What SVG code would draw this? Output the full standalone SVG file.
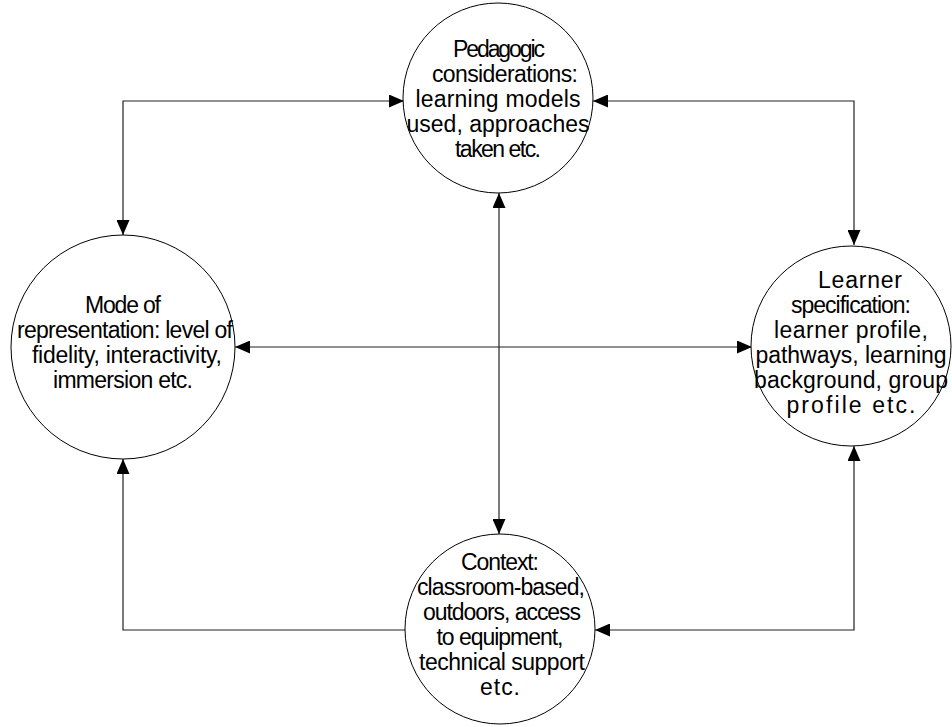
<svg xmlns="http://www.w3.org/2000/svg" width="952" height="727" viewBox="0 0 952 727">
<style>
.node circle{fill:#fff;stroke:#000;stroke-width:1}
.node text{font-family:"Liberation Sans",Arial,sans-serif;font-size:23px;fill:#000;text-anchor:middle}
.conn path{fill:none;stroke:#222;stroke-width:1.2}
</style>
<defs>
<marker id="arr" markerUnits="userSpaceOnUse" markerWidth="15" markerHeight="13" refX="15" refY="6.5" orient="auto-start-reverse" viewBox="0 0 15 13">
<path d="M0,0 L15,6.5 L0,13 z" fill="#000"/>
</marker>
</defs>
<g id="connectors" class="conn">
<path d="M404,101 H123 V235" marker-start="url(#arr)" marker-end="url(#arr)"/>
<path d="M593,101 H854 V245" marker-start="url(#arr)" marker-end="url(#arr)"/>
<path d="M405,630 H123 V459" marker-end="url(#arr)"/>
<path d="M595,630 H854 V446" marker-start="url(#arr)" marker-end="url(#arr)"/>
<path d="M499,193 V534" marker-start="url(#arr)" marker-end="url(#arr)"/>
<path d="M235,347 H752" marker-start="url(#arr)" marker-end="url(#arr)"/>
</g>
<g id="pedagogic" class="node">
<circle cx="498" cy="98" r="95"/>
<text lengthAdjust="spacing"><tspan x="499" y="57" textLength="92">Pedagogic</tspan><tspan x="505" y="82" textLength="146">considerations:</tspan><tspan x="498" y="107" textLength="165">learning models</tspan><tspan x="498" y="132" textLength="183">used, approaches</tspan><tspan x="498" y="157" textLength="86">taken etc.</tspan></text>
</g>
<g id="mode" class="node">
<circle cx="123" cy="347" r="112"/>
<text><tspan x="123" y="313" textLength="76">Mode of</tspan><tspan x="125" y="338" textLength="216">representation: level of</tspan><tspan x="127" y="363" textLength="190">fidelity, interactivity,</tspan><tspan x="123" y="388" textLength="140">immersion etc.</tspan></text>
</g>
<g id="learner" class="node">
<circle cx="851" cy="346" r="100"/>
<text><tspan x="860" y="288" textLength="84">Learner</tspan><tspan x="851" y="313" textLength="120">specification:</tspan><tspan x="851" y="338" textLength="154">learner profile,</tspan><tspan x="851" y="363" textLength="191">pathways, learning</tspan><tspan x="851" y="388" textLength="194">background, group</tspan><tspan x="851" y="413" textLength="129">profile etc.</tspan></text>
</g>
<g id="context" class="node">
<circle cx="500" cy="629" r="95"/>
<text><tspan x="500" y="570" textLength="78">Context:</tspan><tspan x="501" y="595" textLength="168">classroom-based,</tspan><tspan x="502" y="620" textLength="158">outdoors, access</tspan><tspan x="500" y="645" textLength="127">to equipment,</tspan><tspan x="502" y="670" textLength="166">technical support</tspan><tspan x="500" y="695" textLength="40">etc.</tspan></text>
</g>
</svg>
